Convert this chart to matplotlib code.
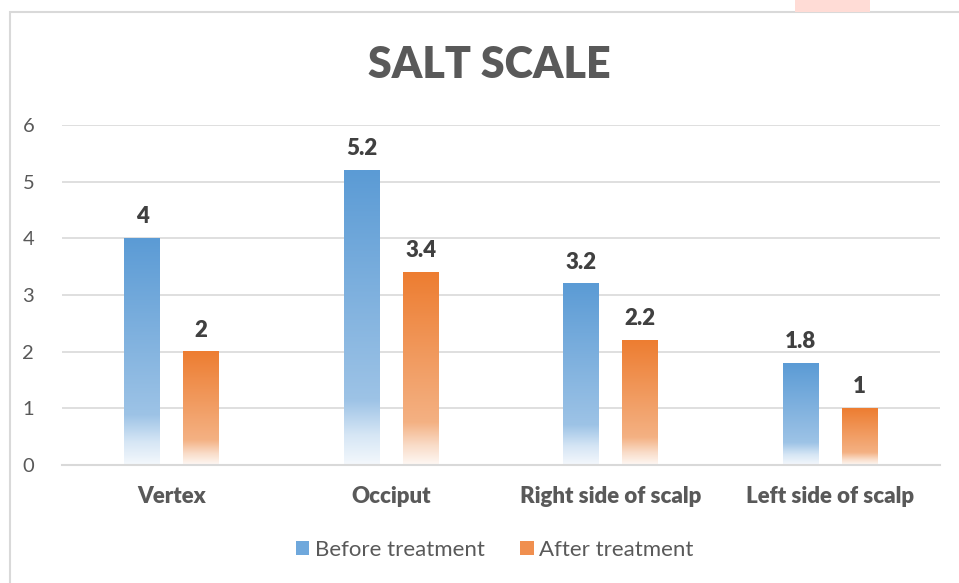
import matplotlib
matplotlib.use("Agg")
import matplotlib.pyplot as plt
import numpy as np
from matplotlib.patches import Rectangle, Patch
from matplotlib.colors import to_rgb

categories = ["Vertex", "Occiput", "Right side of scalp", "Left side of scalp"]
before = [4, 5.2, 3.2, 1.8]
after = [2, 3.4, 2.2, 1]
series_names = ["Before treatment", "After treatment"]
yticks = [0, 1, 2, 3, 4, 5, 6]

plt.rcParams['font.family'] = ['Lato', 'DejaVu Sans']

fig = plt.figure(figsize=(9.59, 5.83), dpi=100)
ax = fig.add_axes([62/959, 1-465/583, (940-62)/959, (465-125)/583])

blue_stops = [(0.0, "#5B9BD5"), (0.78, "#9DC3E6"), (0.9, "#D6E6F5"), (1.0, "#F4F8FC")]
orange_stops = [(0.0, "#ED7D31"), (0.78, "#F4B183"), (0.9, "#F9DCC8"), (1.0, "#FEF8F4")]

def gradient(stops, n=256):
    t = np.linspace(0, 1, n)
    pos = [s[0] for s in stops]
    cols = np.array([to_rgb(s[1]) for s in stops])
    arr = np.stack([np.interp(t, pos, cols[:, i]) for i in range(3)], axis=1)
    return arr[:, None, :]

bw = 0.164
gap = 0.105
off = (bw + gap) / 2
x = np.arange(len(categories))

for vals, stops, sign in [(before, blue_stops, -1), (after, orange_stops, 1)]:
    img = gradient(stops)
    for xi, v in zip(x, vals):
        cx = xi + sign * off
        ax.imshow(img, extent=[cx - bw/2, cx + bw/2, 0, v], aspect='auto',
                  interpolation='bilinear', zorder=2)
        ax.annotate(f"{v:g}", (cx, v), xytext=(0, 8), textcoords='offset points',
                    ha='center', va='bottom', fontsize=16, fontweight='heavy',
                    color='#404040')

ax.set_xlim(-0.5, 3.5)
ax.set_ylim(0, 6)
ax.set_yticks(yticks)
ax.set_yticklabels([str(t) for t in yticks])
ax.set_xticks(x)
ax.set_xticklabels(categories, fontsize=16, fontweight='heavy', color='#595959')
ax.tick_params(axis='y', length=0, pad=20, labelsize=14.5, labelcolor='#595959')
ax.tick_params(axis='x', length=0, pad=15)
ax.grid(axis='y', color='#D9D9D9', linewidth=1.2, zorder=0)
ax.set_axisbelow(True)
for s in ['top', 'right', 'left']:
    ax.spines[s].set_visible(False)
ax.spines['bottom'].set_color('#D9D9D9')
ax.spines['bottom'].set_linewidth(1.5)

fig.text(0.51, 0.888, "SALT SCALE", ha='center', va='center', fontsize=31,
         fontweight='heavy', color='#595959')

handles = [Patch(facecolor="#6FA8DC", edgecolor='none'), Patch(facecolor="#F08F4F", edgecolor='none')]
fig.legend(handles, series_names, loc='center', bbox_to_anchor=(0.516, 0.057), ncol=2,
           frameon=False, fontsize=16, labelcolor='#595959', handlelength=0.6,
           handleheight=0.6, handletextpad=0.25, columnspacing=1.6)

# chart border and artifact
fig.patches.append(Rectangle((9.5/959, -0.05), 1.1, 1 - 12.5/583 + 0.05, transform=fig.transFigure,
                             fill=False, edgecolor='#D9D9D9', linewidth=1.5))
fig.patches.append(Rectangle((795/959, 1 - 12/583), 75/959, 12/583, transform=fig.transFigure,
                             facecolor='#FFDCD6', edgecolor='none'))

fig.savefig("out.png", dpi=100)
